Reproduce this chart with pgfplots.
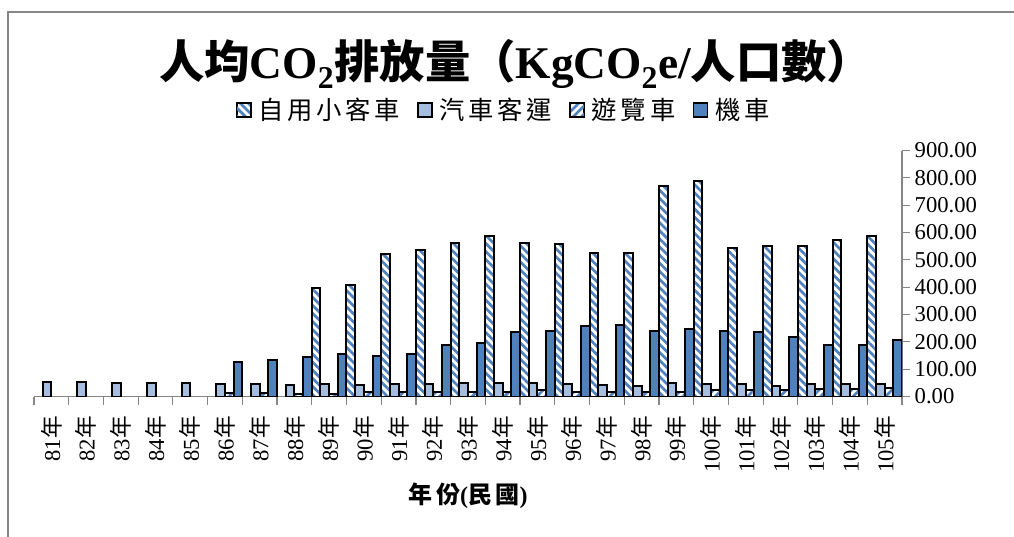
\documentclass[border=0pt]{standalone}
\usepackage{fontspec}
\setmainfont{Liberation Serif}
\newfontfamily\cjk{Noto Sans CJK TC}
\newfontfamily\cjks[LetterSpace=15]{Noto Sans CJK TC}
\usepackage{pgfplots}
\usepackage{pgfplotstable}
\pgfplotsset{compat=1.18}
\usetikzlibrary{patterns.meta}
\definecolor{xb}{RGB}{79,129,189}
\definecolor{xl}{RGB}{165,190,224}
\definecolor{axg}{RGB}{134,134,134}
% 自用小客車
\pgfplotstableread{
x y
8 398
9 408
10 521
11 536
12 563
13 587
14 563
15 558
16 524
17 524
18 770
19 787
20 542
21 551
22 551
23 573
24 588
}\tA
% 汽車客運
\pgfplotstableread{
x y
0 52
1 52
2 48
3 48
4 48
5 45
6 45
7 42
8 46
9 42
10 46
11 46
12 50
13 50
14 50
15 46
16 42
17 40
18 48
19 46
20 46
21 40
22 46
23 46
24 46
}\tB
% 遊覽車
\pgfplotstableread{
x y
5 12
6 12
7 10
8 10
9 18
10 18
11 16
12 18
13 18
14 22
15 18
16 18
17 16
18 18
19 22
20 22
21 25
22 28
23 28
24 30
}\tC
% 機車
\pgfplotstableread{
x y
5 127
6 134
7 146
8 154
9 149
10 154
11 188
12 195
13 237
14 241
15 258
16 263
17 241
18 246
19 241
20 237
21 219
22 188
23 188
24 206
}\tD
\begin{document}
\begin{tikzpicture}
\begin{axis}[
  at={(25.5pt,104.625pt)}, anchor=south west,
  scale only axis, width=651pt, height=184.5pt,
  ybar=0pt, bar width=6.51pt,
  xmin=-0.5, xmax=24.5, ymin=0, ymax=900,
  enlargelimits=false,
  axis x line*=bottom, axis y line*=right,
  axis line style={axg, line width=0.9pt},
  tick style={axg, line width=0.9pt},
  major tick length=6pt, tick align=outside,
  xtick={-0.5,0.5,...,24.5},
  x tick label as interval,
  xticklabels={81{\cjk 年},82{\cjk 年},83{\cjk 年},84{\cjk 年},85{\cjk 年},86{\cjk 年},87{\cjk 年},88{\cjk 年},89{\cjk 年},90{\cjk 年},91{\cjk 年},92{\cjk 年},93{\cjk 年},94{\cjk 年},95{\cjk 年},96{\cjk 年},97{\cjk 年},98{\cjk 年},99{\cjk 年},100{\cjk 年},101{\cjk 年},102{\cjk 年},103{\cjk 年},104{\cjk 年},105{\cjk 年}},
  xticklabel style={rotate=90, anchor=east, inner xsep=8.5pt, font=\fontsize{17}{17}\selectfont},
  ytick={0,100,...,900},
  /pgf/number format/assume math mode=true,
  yticklabel style={font=\fontsize{17}{17}\selectfont, /pgf/number format/fixed, /pgf/number format/fixed zerofill, /pgf/number format/precision=2},
  title={{\cjk 人均}CO\textsubscript{2}{\cjk 排放量（}KgCO\textsubscript{2}e/{\cjk 人口數）}},
  title style={at={(axis description cs:0.555,1.3195)}, anchor=center, font=\fontsize{34}{34}\selectfont\bfseries},
  xlabel={{\cjks 年份}({\cjks 民國})},
  xlabel style={at={(axis description cs:0.5,-0.4045)}, anchor=center, font=\fontsize{18}{18}\selectfont\bfseries},
  legend columns=4,
  legend style={at={(axis description cs:0.5415,1.1646)}, anchor=center, draw=none, fill=none, font=\fontsize{19}{19}\selectfont\cjks, /tikz/every even column/.append style={column sep=11pt}},
  legend image code/.code={\draw[#1, line width=1.2pt] (0pt,-5.25pt) rectangle (10.5pt,5.25pt);},
]
\addplot[draw=black, line width=1.5pt, preaction={fill=white}, pattern={Lines[angle=-45,distance=4.3pt,line width=2pt]}, pattern color=xb] table {\tA};
\addplot[draw=black, line width=1.5pt, fill=xl] table {\tB};
\addplot[draw=black, line width=1.5pt, preaction={fill=white}, pattern={Lines[angle=45,distance=4.3pt,line width=2pt]}, pattern color=xb] table {\tC};
\addplot[draw=black, line width=1.5pt, fill=xb] table {\tD};
\legend{\hspace{3pt}自用小客車,\hspace{3pt}汽車客運,\hspace{3pt}遊覽車,\hspace{3pt}機車}
\end{axis}
\draw[axg, line width=1.5pt] (6pt,-10pt) -- (6pt,393pt) -- (780pt,393pt);
\pgfresetboundingbox
\useasboundingbox (0,0) rectangle (760.5pt,402pt);
\end{tikzpicture}
\end{document}
